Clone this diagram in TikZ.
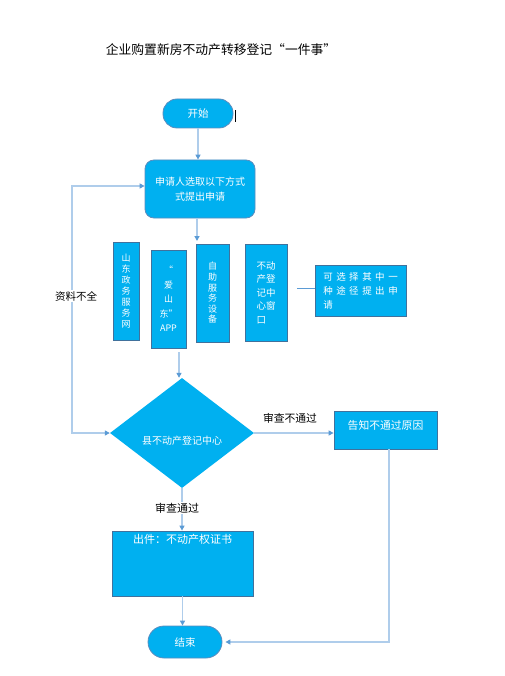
\documentclass[tikz,border=0pt]{standalone}
\usepackage{fontspec}
\setmainfont{Noto Sans CJK SC}
\usetikzlibrary{shapes.geometric,arrows.meta}
\definecolor{boxfill}{RGB}{0,176,240}
\definecolor{boxdraw}{RGB}{65,113,156}
\definecolor{rdraw}{RGB}{90,140,190}
\definecolor{linecol}{RGB}{175,205,235}
\definecolor{tipcol}{RGB}{91,155,213}
\newcommand\myfs[2]{\fontsize{#1}{#2}\selectfont}
\newcommand\spch[1]{\makebox[13pt][c]{#1}}
\begin{document}
\begin{tikzpicture}[x=1pt,y=-1pt,
  rbox/.style={rectangle, fill=boxfill, draw=rdraw, line width=0.8pt, text=white, inner sep=0pt},
  sbox/.style={rectangle, fill=boxfill, draw=boxdraw, line width=0.8pt, text=white, inner sep=0pt},
  wtext/.style={text=white, inner sep=0pt},
  btext/.style={text=black, inner sep=1pt},
  flow/.style={draw=linecol, line width=1.3pt, -{Triangle[length=5pt,width=5pt,color=tipcol]}},
  flowtwo/.style={draw=linecol, line width=1.3pt, {Triangle[length=5pt,width=5pt,color=tipcol]}-{Triangle[length=5pt,width=5pt,color=tipcol]}},
  plain/.style={draw=linecol, line width=1.3pt}
]
\useasboundingbox (0,0) rectangle (504,676);
\fill[white] (0,0) rectangle (504,676);

% title
\node[btext, font=\myfs{12.8}{15}] (title) at (221,50) {企业购置新房不动产转移登记“一件事”};

% start
\node[rbox, rounded corners=14pt, minimum width=70pt, minimum height=29pt, font=\myfs{10.5}{12}] (start) at (198,113.5) {开始};
\node[fill=black, minimum width=1.6pt, minimum height=12pt, inner sep=0pt] (cursor) at (235.5,116) {};

% apply
\node[rbox, rounded corners=9pt, minimum width=110pt, minimum height=58pt, align=center, font=\myfs{10}{15}] (apply) at (200,189) {申请人选取以下方式\\式提出申请};

% channels
\node[sbox, minimum width=26pt, minimum height=98pt, align=center, font=\myfs{9}{11}] (ch1) at (126,291) {山\\东\\政\\务\\服\\务\\网};
\node[sbox, minimum width=35pt, minimum height=98pt, align=center, font=\myfs{9}{14.5}] (ch2) at (168.5,299) {“\\爱\\山\\东”\\APP};
\node[sbox, minimum width=33pt, minimum height=98pt, align=center, font=\myfs{9}{10.6}] (ch3) at (212.5,293) {自\\助\\服\\务\\设\\备};
\node[sbox, minimum width=42pt, minimum height=97pt, align=left, font=\myfs{9.5}{13.5}] (ch4) at (266,292.5) {不动\\产登\\记中\\心窗\\口};
\node[sbox, minimum width=91pt, minimum height=51pt, align=left, font=\myfs{9.5}{14}] (note) at (360.5,290.5) {\spch{可}\spch{选}\spch{择}\spch{其}\spch{中}\spch{一}\\\spch{种}\spch{途}\spch{径}\spch{提}\spch{出}\spch{申}\\\spch{请}\hspace{65pt}};
\coordinate (c5) at (297,288);
\draw[draw=tipcol, line width=0.8pt] (c5) -- (c5 -| note.west);

% diamond
\node[diamond, fill=boxfill, draw=none, minimum width=144pt, minimum height=110pt, inner sep=0pt] (dia) at (182,433) {};
\node[wtext, font=\myfs{10}{12}] (diatext) at (182,441) {县不动产登记中心};

% notice
\node[sbox, minimum width=103pt, minimum height=38pt] (notice) at (385.5,430) {};
\node[wtext, font=\myfs{10.8}{12}] (noticetext) at (385.5,425) {告知不通过原因};

% output
\node[sbox, minimum width=141pt, minimum height=65pt] (output) at (182.5,563.5) {};
\node[wtext, font=\myfs{11}{12}] (outputtext) at (182.5,539) {出件：不动产权证书};

% end
\node[rbox, rounded corners=16pt, minimum width=74pt, minimum height=32pt, font=\myfs{10.5}{12}] (end) at (185,642) {结束};

% connectors
\draw[flow] (start.south) -- (start.south |- apply.north);
\coordinate (c1) at (197,241);
\draw[flow] (c1 |- apply.south) -- (c1);
\coordinate (c2) at (179,352);
\draw[flow] (c2) -- (c2 |- dia.north);
\draw[flow] (dia.east) -- (dia.east -| notice.west);
\node[btext, font=\myfs{10.8}{12}] (lab1) at (290,418) {审查不通过};
\draw[flow] (dia.south) -- (dia.south |- output.north);
\node[btext, fill=white, font=\myfs{11}{12}] (lab2) at (177,508) {审查通过};
\draw[flow] (output.south) -- (output.south |- end.north);
\coordinate (c3) at (389,0);
\draw[flow] (c3 |- notice.south) |- ([xshift=3pt]end.east);
\coordinate (fbtop) at (72,186);
\coordinate (fbbot) at (72,433);
\draw[flowtwo] (dia.west) -- (fbbot) -- (fbtop) -- (fbtop -| apply.west);
\node[btext, fill=white, font=\myfs{10.5}{12}] (lab3) at (76,296) {资料不全};
\end{tikzpicture}
\end{document}
